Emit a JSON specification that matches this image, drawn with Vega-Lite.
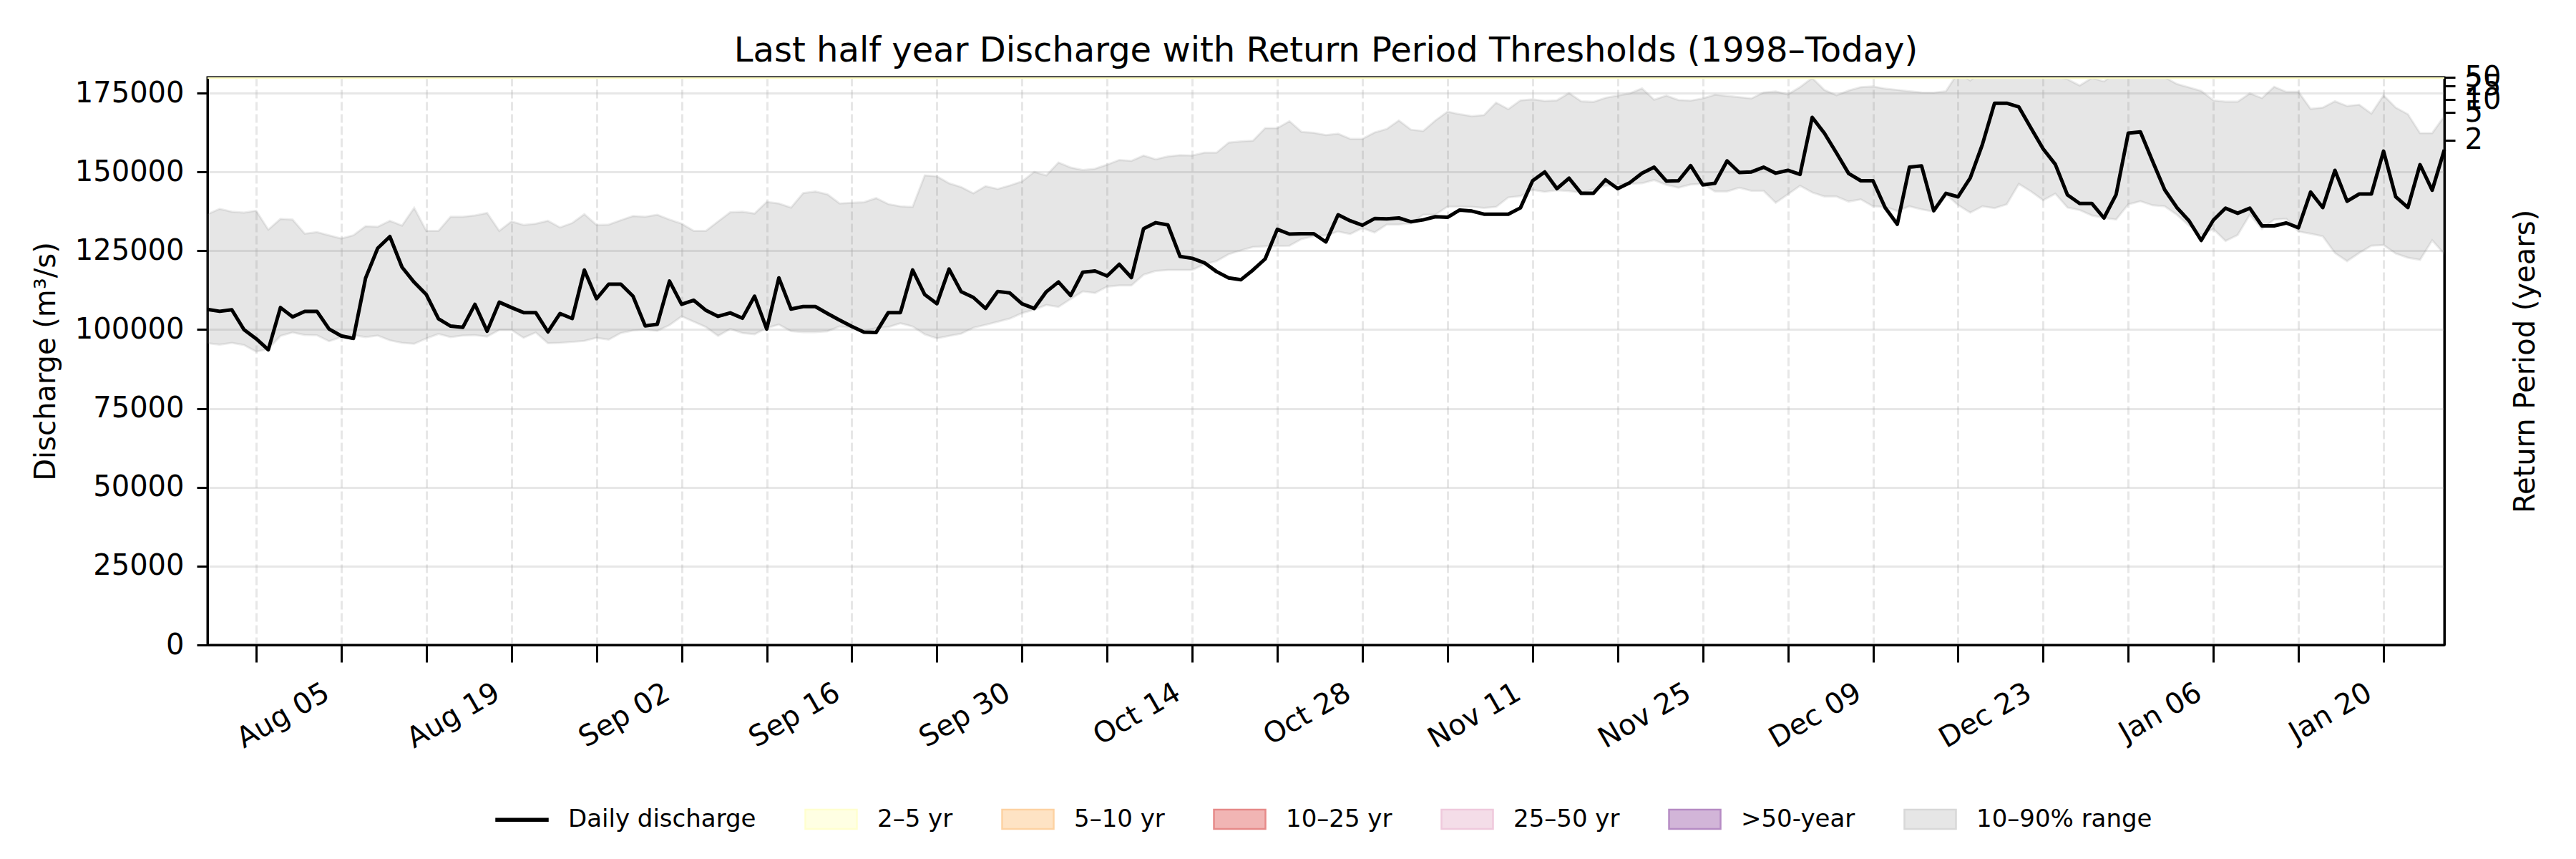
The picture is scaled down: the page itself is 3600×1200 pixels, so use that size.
{
  "$schema": "https://vega.github.io/schema/vega-lite/v6.json",
  "description": "Last half year discharge with the 10-90% climatological range and return period thresholds",
  "width": 3126,
  "height": 793,
  "autosize": {"type": "none"},
  "padding": {"left": 290, "top": 108, "right": 184, "bottom": 299},
  "background": "white",
  "title": {
    "text": "Last half year Discharge with Return Period Thresholds (1998–Today)",
    "font": "DejaVu Sans",
    "fontSize": 48,
    "fontWeight": "normal",
    "color": "black",
    "anchor": "middle",
    "frame": "group",
    "baseline": "alphabetic",
    "offset": -46
  },
  "datasets": {
    "flow": [
      {"date": "2024-07-25", "q": 106400, "p10": 95700, "p90": 136600},
      {"date": "2024-07-26", "q": 105800, "p10": 95200, "p90": 138300},
      {"date": "2024-07-27", "q": 106300, "p10": 95800, "p90": 137400},
      {"date": "2024-07-28", "q": 100000, "p10": 95100, "p90": 137100},
      {"date": "2024-07-29", "q": 97100, "p10": 93000, "p90": 137700},
      {"date": "2024-07-30", "q": 93600, "p10": 93800, "p90": 131700},
      {"date": "2024-07-31", "q": 107000, "p10": 98000, "p90": 135100},
      {"date": "2024-08-01", "q": 104000, "p10": 99100, "p90": 134900},
      {"date": "2024-08-02", "q": 105800, "p10": 98300, "p90": 130400},
      {"date": "2024-08-03", "q": 105800, "p10": 98200, "p90": 130900},
      {"date": "2024-08-04", "q": 100200, "p10": 96300, "p90": 129900},
      {"date": "2024-08-05", "q": 98000, "p10": 97600, "p90": 128900},
      {"date": "2024-08-06", "q": 97200, "p10": 98300, "p90": 129900},
      {"date": "2024-08-07", "q": 116300, "p10": 97600, "p90": 132800},
      {"date": "2024-08-08", "q": 125800, "p10": 98100, "p90": 132600},
      {"date": "2024-08-09", "q": 129500, "p10": 96600, "p90": 134500},
      {"date": "2024-08-10", "q": 119800, "p10": 95800, "p90": 133000},
      {"date": "2024-08-11", "q": 115000, "p10": 95500, "p90": 138600},
      {"date": "2024-08-12", "q": 111100, "p10": 97200, "p90": 131300},
      {"date": "2024-08-13", "q": 103400, "p10": 98600, "p90": 131300},
      {"date": "2024-08-14", "q": 101100, "p10": 97600, "p90": 135800},
      {"date": "2024-08-15", "q": 100700, "p10": 98100, "p90": 135800},
      {"date": "2024-08-16", "q": 108000, "p10": 98200, "p90": 136200},
      {"date": "2024-08-17", "q": 99500, "p10": 97800, "p90": 137000},
      {"date": "2024-08-18", "q": 108700, "p10": 99900, "p90": 131300},
      {"date": "2024-08-19", "q": 107000, "p10": 99900, "p90": 134300},
      {"date": "2024-08-20", "q": 105400, "p10": 97400, "p90": 133200},
      {"date": "2024-08-21", "q": 105400, "p10": 99100, "p90": 133600},
      {"date": "2024-08-22", "q": 99300, "p10": 95700, "p90": 134500},
      {"date": "2024-08-23", "q": 105100, "p10": 95800, "p90": 132400},
      {"date": "2024-08-24", "q": 103500, "p10": 96100, "p90": 133800},
      {"date": "2024-08-25", "q": 118900, "p10": 96400, "p90": 136600},
      {"date": "2024-08-26", "q": 109800, "p10": 97400, "p90": 133200},
      {"date": "2024-08-27", "q": 114400, "p10": 96800, "p90": 133300},
      {"date": "2024-08-28", "q": 114400, "p10": 98900, "p90": 134700},
      {"date": "2024-08-29", "q": 110600, "p10": 99700, "p90": 136000},
      {"date": "2024-08-30", "q": 101200, "p10": 100000, "p90": 135800},
      {"date": "2024-08-31", "q": 101700, "p10": 99600, "p90": 136400},
      {"date": "2024-09-01", "q": 115400, "p10": 101400, "p90": 134900},
      {"date": "2024-09-02", "q": 108000, "p10": 104200, "p90": 133600},
      {"date": "2024-09-03", "q": 109300, "p10": 102500, "p90": 131300},
      {"date": "2024-09-04", "q": 106100, "p10": 100800, "p90": 131300},
      {"date": "2024-09-05", "q": 104200, "p10": 98000, "p90": 134300},
      {"date": "2024-09-06", "q": 105300, "p10": 100200, "p90": 137200},
      {"date": "2024-09-07", "q": 103600, "p10": 98900, "p90": 137400},
      {"date": "2024-09-08", "q": 110600, "p10": 98500, "p90": 136800},
      {"date": "2024-09-09", "q": 100200, "p10": 100500, "p90": 140500},
      {"date": "2024-09-10", "q": 116400, "p10": 101600, "p90": 140000},
      {"date": "2024-09-11", "q": 106500, "p10": 99500, "p90": 138700},
      {"date": "2024-09-12", "q": 107300, "p10": 99200, "p90": 143300},
      {"date": "2024-09-13", "q": 107300, "p10": 99200, "p90": 143800},
      {"date": "2024-09-14", "q": 105100, "p10": 99500, "p90": 142900},
      {"date": "2024-09-15", "q": 103000, "p10": 101000, "p90": 140000},
      {"date": "2024-09-16", "q": 101000, "p10": 100500, "p90": 140200},
      {"date": "2024-09-17", "q": 99200, "p10": 99500, "p90": 140400},
      {"date": "2024-09-18", "q": 99100, "p10": 100500, "p90": 141700},
      {"date": "2024-09-19", "q": 105400, "p10": 100800, "p90": 139800},
      {"date": "2024-09-20", "q": 105400, "p10": 102000, "p90": 139100},
      {"date": "2024-09-21", "q": 118900, "p10": 101000, "p90": 138900},
      {"date": "2024-09-22", "q": 111100, "p10": 98500, "p90": 148900},
      {"date": "2024-09-23", "q": 108200, "p10": 97200, "p90": 148600},
      {"date": "2024-09-24", "q": 119200, "p10": 98000, "p90": 146400},
      {"date": "2024-09-25", "q": 112000, "p10": 98700, "p90": 145200},
      {"date": "2024-09-26", "q": 110200, "p10": 100600, "p90": 143200},
      {"date": "2024-09-27", "q": 106700, "p10": 101500, "p90": 145500},
      {"date": "2024-09-28", "q": 112100, "p10": 102500, "p90": 144600},
      {"date": "2024-09-29", "q": 111600, "p10": 103500, "p90": 145700},
      {"date": "2024-09-30", "q": 108200, "p10": 105200, "p90": 147000},
      {"date": "2024-10-01", "q": 106700, "p10": 106300, "p90": 150000},
      {"date": "2024-10-02", "q": 112000, "p10": 107800, "p90": 148900},
      {"date": "2024-10-03", "q": 115100, "p10": 107200, "p90": 153000},
      {"date": "2024-10-04", "q": 110800, "p10": 109700, "p90": 151400},
      {"date": "2024-10-05", "q": 118200, "p10": 112100, "p90": 150600},
      {"date": "2024-10-06", "q": 118600, "p10": 111600, "p90": 151000},
      {"date": "2024-10-07", "q": 117000, "p10": 113600, "p90": 152300},
      {"date": "2024-10-08", "q": 120700, "p10": 114000, "p90": 153800},
      {"date": "2024-10-09", "q": 116500, "p10": 114000, "p90": 153500},
      {"date": "2024-10-10", "q": 132000, "p10": 117400, "p90": 155200},
      {"date": "2024-10-11", "q": 133900, "p10": 118600, "p90": 154000},
      {"date": "2024-10-12", "q": 133200, "p10": 118900, "p90": 154900},
      {"date": "2024-10-13", "q": 123200, "p10": 118900, "p90": 155300},
      {"date": "2024-10-14", "q": 122600, "p10": 118900, "p90": 155200},
      {"date": "2024-10-15", "q": 121200, "p10": 120700, "p90": 156100},
      {"date": "2024-10-16", "q": 118400, "p10": 121700, "p90": 156100},
      {"date": "2024-10-17", "q": 116400, "p10": 123900, "p90": 159300},
      {"date": "2024-10-18", "q": 115800, "p10": 125100, "p90": 159700},
      {"date": "2024-10-19", "q": 118900, "p10": 126200, "p90": 159900},
      {"date": "2024-10-20", "q": 122400, "p10": 126400, "p90": 163900},
      {"date": "2024-10-21", "q": 131800, "p10": 126500, "p90": 163900},
      {"date": "2024-10-22", "q": 130300, "p10": 126600, "p90": 166100},
      {"date": "2024-10-23", "q": 130400, "p10": 128700, "p90": 162700},
      {"date": "2024-10-24", "q": 130400, "p10": 129600, "p90": 162400},
      {"date": "2024-10-25", "q": 127800, "p10": 129900, "p90": 161700},
      {"date": "2024-10-26", "q": 136400, "p10": 131100, "p90": 162100},
      {"date": "2024-10-27", "q": 134500, "p10": 130300, "p90": 160500},
      {"date": "2024-10-28", "q": 133100, "p10": 132200, "p90": 160500},
      {"date": "2024-10-29", "q": 135200, "p10": 130800, "p90": 162500},
      {"date": "2024-10-30", "q": 135100, "p10": 133300, "p90": 163600},
      {"date": "2024-10-31", "q": 135400, "p10": 133300, "p90": 166300},
      {"date": "2024-11-01", "q": 134200, "p10": 133700, "p90": 163400},
      {"date": "2024-11-02", "q": 134800, "p10": 136400, "p90": 163000},
      {"date": "2024-11-03", "q": 135800, "p10": 136400, "p90": 166300},
      {"date": "2024-11-04", "q": 135600, "p10": 139000, "p90": 169100},
      {"date": "2024-11-05", "q": 137900, "p10": 139000, "p90": 168300},
      {"date": "2024-11-06", "q": 137600, "p10": 138900, "p90": 167700},
      {"date": "2024-11-07", "q": 136600, "p10": 138600, "p90": 168000},
      {"date": "2024-11-08", "q": 136600, "p10": 138900, "p90": 172000},
      {"date": "2024-11-09", "q": 136600, "p10": 141900, "p90": 169900},
      {"date": "2024-11-10", "q": 138600, "p10": 142300, "p90": 172700},
      {"date": "2024-11-11", "q": 147200, "p10": 144300, "p90": 173000},
      {"date": "2024-11-12", "q": 150000, "p10": 143700, "p90": 172500},
      {"date": "2024-11-13", "q": 144700, "p10": 144200, "p90": 172700},
      {"date": "2024-11-14", "q": 148000, "p10": 143900, "p90": 175000},
      {"date": "2024-11-15", "q": 143200, "p10": 143400, "p90": 172400},
      {"date": "2024-11-16", "q": 143200, "p10": 144500, "p90": 172200},
      {"date": "2024-11-17", "q": 147500, "p10": 145600, "p90": 173500},
      {"date": "2024-11-18", "q": 144700, "p10": 146000, "p90": 174200},
      {"date": "2024-11-19", "q": 146600, "p10": 146200, "p90": 174900},
      {"date": "2024-11-20", "q": 149600, "p10": 146400, "p90": 176500},
      {"date": "2024-11-21", "q": 151500, "p10": 147400, "p90": 172900},
      {"date": "2024-11-22", "q": 147100, "p10": 145900, "p90": 174200},
      {"date": "2024-11-23", "q": 147200, "p10": 145000, "p90": 172800},
      {"date": "2024-11-24", "q": 152000, "p10": 146000, "p90": 172600},
      {"date": "2024-11-25", "q": 145900, "p10": 146200, "p90": 173300},
      {"date": "2024-11-26", "q": 146400, "p10": 143800, "p90": 174500},
      {"date": "2024-11-27", "q": 153500, "p10": 143800, "p90": 174100},
      {"date": "2024-11-28", "q": 149800, "p10": 145000, "p90": 173700},
      {"date": "2024-11-29", "q": 150000, "p10": 144000, "p90": 173300},
      {"date": "2024-11-30", "q": 151500, "p10": 144000, "p90": 175200},
      {"date": "2024-12-01", "q": 149600, "p10": 140200, "p90": 175500},
      {"date": "2024-12-02", "q": 150500, "p10": 142900, "p90": 174600},
      {"date": "2024-12-03", "q": 149200, "p10": 145600, "p90": 176900},
      {"date": "2024-12-04", "q": 167300, "p10": 143500, "p90": 179800},
      {"date": "2024-12-05", "q": 162300, "p10": 142200, "p90": 176000},
      {"date": "2024-12-06", "q": 156000, "p10": 142200, "p90": 174300},
      {"date": "2024-12-07", "q": 149500, "p10": 140600, "p90": 175800},
      {"date": "2024-12-08", "q": 147200, "p10": 141300, "p90": 176900},
      {"date": "2024-12-09", "q": 147200, "p10": 139100, "p90": 177100},
      {"date": "2024-12-10", "q": 138700, "p10": 138900, "p90": 176400},
      {"date": "2024-12-11", "q": 133400, "p10": 137600, "p90": 176000},
      {"date": "2024-12-12", "q": 151500, "p10": 139100, "p90": 175600},
      {"date": "2024-12-13", "q": 151900, "p10": 138100, "p90": 175200},
      {"date": "2024-12-14", "q": 137700, "p10": 137400, "p90": 175100},
      {"date": "2024-12-15", "q": 143200, "p10": 142900, "p90": 175600},
      {"date": "2024-12-16", "q": 142100, "p10": 139500, "p90": 181500},
      {"date": "2024-12-17", "q": 148100, "p10": 137100, "p90": 179000},
      {"date": "2024-12-18", "q": 158700, "p10": 139100, "p90": 182000},
      {"date": "2024-12-19", "q": 171800, "p10": 138500, "p90": 182000},
      {"date": "2024-12-20", "q": 171800, "p10": 139700, "p90": 182000},
      {"date": "2024-12-21", "q": 170600, "p10": 146200, "p90": 182000},
      {"date": "2024-12-22", "q": 163900, "p10": 143800, "p90": 182000},
      {"date": "2024-12-23", "q": 157300, "p10": 141000, "p90": 182000},
      {"date": "2024-12-24", "q": 152400, "p10": 143100, "p90": 180500},
      {"date": "2024-12-25", "q": 142700, "p10": 138700, "p90": 179400},
      {"date": "2024-12-26", "q": 140000, "p10": 137900, "p90": 177400},
      {"date": "2024-12-27", "q": 140000, "p10": 136200, "p90": 179800},
      {"date": "2024-12-28", "q": 135400, "p10": 135400, "p90": 178700},
      {"date": "2024-12-29", "q": 142800, "p10": 134900, "p90": 181500},
      {"date": "2024-12-30", "q": 162300, "p10": 139700, "p90": 182000},
      {"date": "2024-12-31", "q": 162700, "p10": 140700, "p90": 182000},
      {"date": "2025-01-01", "q": 153400, "p10": 139400, "p90": 181500},
      {"date": "2025-01-02", "q": 144300, "p10": 139100, "p90": 180000},
      {"date": "2025-01-03", "q": 138700, "p10": 136400, "p90": 177900},
      {"date": "2025-01-04", "q": 134500, "p10": 133000, "p90": 176800},
      {"date": "2025-01-05", "q": 128300, "p10": 130100, "p90": 175700},
      {"date": "2025-01-06", "q": 134700, "p10": 131900, "p90": 172700},
      {"date": "2025-01-07", "q": 138500, "p10": 128100, "p90": 172300},
      {"date": "2025-01-08", "q": 136900, "p10": 130000, "p90": 172300},
      {"date": "2025-01-09", "q": 138500, "p10": 136400, "p90": 174900},
      {"date": "2025-01-10", "q": 132900, "p10": 131900, "p90": 173400},
      {"date": "2025-01-11", "q": 132900, "p10": 134900, "p90": 177000},
      {"date": "2025-01-12", "q": 133800, "p10": 135100, "p90": 175400},
      {"date": "2025-01-13", "q": 132300, "p10": 131100, "p90": 175400},
      {"date": "2025-01-14", "q": 143600, "p10": 130400, "p90": 170000},
      {"date": "2025-01-15", "q": 138700, "p10": 129600, "p90": 170400},
      {"date": "2025-01-16", "q": 150500, "p10": 124300, "p90": 172400},
      {"date": "2025-01-17", "q": 140700, "p10": 121700, "p90": 170900},
      {"date": "2025-01-18", "q": 143000, "p10": 124300, "p90": 171300},
      {"date": "2025-01-19", "q": 143000, "p10": 126600, "p90": 168500},
      {"date": "2025-01-20", "q": 156600, "p10": 126800, "p90": 174300},
      {"date": "2025-01-21", "q": 142100, "p10": 124100, "p90": 170400},
      {"date": "2025-01-22", "q": 138700, "p10": 122800, "p90": 168300},
      {"date": "2025-01-23", "q": 152300, "p10": 122100, "p90": 162300},
      {"date": "2025-01-24", "q": 144200, "p10": 128300, "p90": 162300},
      {"date": "2025-01-25", "q": 157000, "p10": 124000, "p90": 167700}
    ],
    "returnPeriods": [
      {"rp": "2", "q": 160100},
      {"rp": "5", "q": 168800},
      {"rp": "10", "q": 172950},
      {"rp": "25", "q": 177250},
      {"rp": "50", "q": 179900}
    ],
    "visibleBand": [
      {"band": "2–5 yr", "lo": 179500, "hi": 180000}
    ],
    "legendItems": [
      {"series": "Daily discharge"},
      {"series": "2–5 yr"},
      {"series": "5–10 yr"},
      {"series": "10–25 yr"},
      {"series": "25–50 yr"},
      {"series": ">50-year"},
      {"series": "10–90% range"}
    ]
  },
  "layer": [
    {
      "data": {"name": "flow"},
      "mark": {
        "type": "area",
        "fill": "#808080",
        "fillOpacity": 0.2,
        "stroke": "#808080",
        "strokeOpacity": 0.15,
        "strokeWidth": 3,
        "clip": true
      },
      "encoding": {
        "x": {
          "field": "date",
          "type": "temporal",
          "scale": {
            "type": "utc",
            "domain": [
              {"year": 2024, "month": 7, "date": 25, "utc": true},
              {"year": 2025, "month": 1, "date": 25, "utc": true}
            ]
          },
          "axis": {
            "title": null,
            "values": [
              {"year": 2024, "month": 7, "date": 29, "utc": true},
              {"year": 2024, "month": 8, "date": 5, "utc": true},
              {"year": 2024, "month": 8, "date": 12, "utc": true},
              {"year": 2024, "month": 8, "date": 19, "utc": true},
              {"year": 2024, "month": 8, "date": 26, "utc": true},
              {"year": 2024, "month": 9, "date": 2, "utc": true},
              {"year": 2024, "month": 9, "date": 9, "utc": true},
              {"year": 2024, "month": 9, "date": 16, "utc": true},
              {"year": 2024, "month": 9, "date": 23, "utc": true},
              {"year": 2024, "month": 9, "date": 30, "utc": true},
              {"year": 2024, "month": 10, "date": 7, "utc": true},
              {"year": 2024, "month": 10, "date": 14, "utc": true},
              {"year": 2024, "month": 10, "date": 21, "utc": true},
              {"year": 2024, "month": 10, "date": 28, "utc": true},
              {"year": 2024, "month": 11, "date": 4, "utc": true},
              {"year": 2024, "month": 11, "date": 11, "utc": true},
              {"year": 2024, "month": 11, "date": 18, "utc": true},
              {"year": 2024, "month": 11, "date": 25, "utc": true},
              {"year": 2024, "month": 12, "date": 2, "utc": true},
              {"year": 2024, "month": 12, "date": 9, "utc": true},
              {"year": 2024, "month": 12, "date": 16, "utc": true},
              {"year": 2024, "month": 12, "date": 23, "utc": true},
              {"year": 2024, "month": 12, "date": 30, "utc": true},
              {"year": 2025, "month": 1, "date": 6, "utc": true},
              {"year": 2025, "month": 1, "date": 13, "utc": true},
              {"year": 2025, "month": 1, "date": 20, "utc": true}
            ],
            "labelExpr": "(round((datum.value - utc(2024, 7, 5)) / 604800000) % 2 == 0) ? utcFormat(datum.value, '%b %d') : ''",
            "labelAngle": -30,
            "labelAlign": "right",
            "labelBaseline": "top",
            "labelPadding": 22,
            "labelOffset": -30,
            "labelOverlap": false,
            "labelFlush": false,
            "tickSize": 24,
            "grid": true,
            "gridDash": [12, 5]
          }
        },
        "y": {
          "field": "p90",
          "type": "quantitative",
          "scale": {"domain": [0, 180000], "nice": false},
          "axis": {
            "orient": "left",
            "title": "Discharge (m³/s)",
            "values": [0, 25000, 50000, 75000, 100000, 125000, 150000, 175000],
            "format": "d",
            "tickSize": 15,
            "labelPadding": 18,
            "titlePadding": 20,
            "grid": true
          }
        },
        "y2": {"field": "p10"}
      }
    },
    {
      "data": {"name": "flow"},
      "mark": {"type": "line", "color": "black", "strokeWidth": 5, "strokeJoin": "round"},
      "encoding": {
        "x": {
          "field": "date",
          "type": "temporal",
          "scale": {
            "type": "utc",
            "domain": [
              {"year": 2024, "month": 7, "date": 25, "utc": true},
              {"year": 2025, "month": 1, "date": 25, "utc": true}
            ]
          },
          "axis": {
            "title": null,
            "values": [
              {"year": 2024, "month": 7, "date": 29, "utc": true},
              {"year": 2024, "month": 8, "date": 5, "utc": true},
              {"year": 2024, "month": 8, "date": 12, "utc": true},
              {"year": 2024, "month": 8, "date": 19, "utc": true},
              {"year": 2024, "month": 8, "date": 26, "utc": true},
              {"year": 2024, "month": 9, "date": 2, "utc": true},
              {"year": 2024, "month": 9, "date": 9, "utc": true},
              {"year": 2024, "month": 9, "date": 16, "utc": true},
              {"year": 2024, "month": 9, "date": 23, "utc": true},
              {"year": 2024, "month": 9, "date": 30, "utc": true},
              {"year": 2024, "month": 10, "date": 7, "utc": true},
              {"year": 2024, "month": 10, "date": 14, "utc": true},
              {"year": 2024, "month": 10, "date": 21, "utc": true},
              {"year": 2024, "month": 10, "date": 28, "utc": true},
              {"year": 2024, "month": 11, "date": 4, "utc": true},
              {"year": 2024, "month": 11, "date": 11, "utc": true},
              {"year": 2024, "month": 11, "date": 18, "utc": true},
              {"year": 2024, "month": 11, "date": 25, "utc": true},
              {"year": 2024, "month": 12, "date": 2, "utc": true},
              {"year": 2024, "month": 12, "date": 9, "utc": true},
              {"year": 2024, "month": 12, "date": 16, "utc": true},
              {"year": 2024, "month": 12, "date": 23, "utc": true},
              {"year": 2024, "month": 12, "date": 30, "utc": true},
              {"year": 2025, "month": 1, "date": 6, "utc": true},
              {"year": 2025, "month": 1, "date": 13, "utc": true},
              {"year": 2025, "month": 1, "date": 20, "utc": true}
            ],
            "labelExpr": "(round((datum.value - utc(2024, 7, 5)) / 604800000) % 2 == 0) ? utcFormat(datum.value, '%b %d') : ''",
            "labelAngle": -30,
            "labelAlign": "right",
            "labelBaseline": "top",
            "labelPadding": 22,
            "labelOffset": -30,
            "labelOverlap": false,
            "labelFlush": false,
            "tickSize": 24,
            "grid": true,
            "gridDash": [12, 5]
          }
        },
        "y": {"field": "q", "type": "quantitative", "scale": {"domain": [0, 180000], "nice": false}, "axis": null}
      }
    },
    {
      "data": {"name": "visibleBand"},
      "mark": {"type": "rect", "color": "#fdfdc4"},
      "encoding": {
        "y": {"field": "lo", "type": "quantitative", "scale": {"domain": [0, 180000], "nice": false}, "axis": null},
        "y2": {"field": "hi"}
      }
    },
    {
      "data": {"name": "returnPeriods"},
      "mark": {"type": "rule", "opacity": 0},
      "encoding": {
        "y": {
          "field": "q",
          "type": "quantitative",
          "scale": {"domain": [0, 180000], "nice": false},
          "axis": {
            "orient": "right",
            "title": "Return Period (years)",
            "titleAngle": 270,
            "titleBaseline": "top",
            "titlePadding": 15,
            "values": [160100, 168800, 172950, 177250, 179900],
            "labelExpr": "datum.value == 160100 ? '2' : datum.value == 168800 ? '5' : datum.value == 172950 ? '10' : datum.value == 177250 ? '25' : '50'",
            "labelOverlap": false,
            "labelFlush": false,
            "labelPadding": 13,
            "tickSize": 15,
            "grid": false
          }
        }
      }
    },
    {
      "data": {"name": "legendItems"},
      "mark": {"type": "point", "filled": true, "opacity": 0},
      "encoding": {
        "fill": {
          "field": "series",
          "type": "nominal",
          "scale": {
            "domain": ["Daily discharge", "2–5 yr", "5–10 yr", "10–25 yr", "25–50 yr", ">50-year", "10–90% range"],
            "range": ["#000000", "#ffffe3", "#fee3c4", "#f1b5b4", "#f4dde8", "#d2b5d8", "#e6e6e6"]
          },
          "legend": {
            "orient": "none", "legendX": 402, "legendY": 999, "direction": "horizontal", "title": null,
            "symbolSize": 5184, "symbolStrokeWidth": 2.5, "symbolOpacity": 1,
            "labelFont": "DejaVu Sans", "labelFontSize": 34, "labelColor": "black", "labelOffset": 27, "labelLimit": 0,
            "columnPadding": 63, "padding": 0
          }
        },
        "stroke": {
          "field": "series",
          "type": "nominal",
          "scale": {
            "domain": ["Daily discharge", "2–5 yr", "5–10 yr", "10–25 yr", "25–50 yr", ">50-year", "10–90% range"],
            "range": ["#000000", "#ffffcf", "#fdd2a2", "#e68a89", "#efc9dc", "#b68cc4", "#d8d8d8"]
          },
          "legend": {
            "orient": "none", "legendX": 402, "legendY": 999, "direction": "horizontal", "title": null,
            "symbolSize": 5184, "symbolStrokeWidth": 2.5, "symbolOpacity": 1,
            "labelFont": "DejaVu Sans", "labelFontSize": 34, "labelColor": "black", "labelOffset": 27, "labelLimit": 0,
            "columnPadding": 63, "padding": 0
          }
        },
        "shape": {
          "field": "series",
          "type": "nominal",
          "scale": {
            "domain": ["Daily discharge", "2–5 yr", "5–10 yr", "10–25 yr", "25–50 yr", ">50-year", "10–90% range"],
            "range": [
              "M-1,-0.04H1V0.04H-1Z",
              "M-1,-0.375H1V0.375H-1Z",
              "M-1,-0.375H1V0.375H-1Z",
              "M-1,-0.375H1V0.375H-1Z",
              "M-1,-0.375H1V0.375H-1Z",
              "M-1,-0.375H1V0.375H-1Z",
              "M-1,-0.375H1V0.375H-1Z"
            ]
          },
          "legend": {
            "orient": "none", "legendX": 402, "legendY": 999, "direction": "horizontal", "title": null,
            "symbolSize": 5184, "symbolStrokeWidth": 2.5, "symbolOpacity": 1,
            "labelFont": "DejaVu Sans", "labelFontSize": 34, "labelColor": "black", "labelOffset": 27, "labelLimit": 0,
            "columnPadding": 63, "padding": 0
          }
        }
      }
    }
  ],
  "resolve": {"scale": {"y": "independent"}, "axis": {"y": "independent"}},
  "config": {
    "font": "DejaVu Sans",
    "view": {"stroke": "black", "strokeWidth": 3},
    "axis": {
      "domainColor": "black",
      "domainWidth": 3,
      "tickColor": "black",
      "tickWidth": 3,
      "labelFont": "DejaVu Sans",
      "labelFontSize": 40,
      "labelColor": "black",
      "titleFont": "DejaVu Sans",
      "titleFontSize": 40,
      "titleFontWeight": "normal",
      "titleColor": "black",
      "gridColor": "#b0b0b0",
      "gridOpacity": 0.3,
      "gridWidth": 3
    }
  }
}
